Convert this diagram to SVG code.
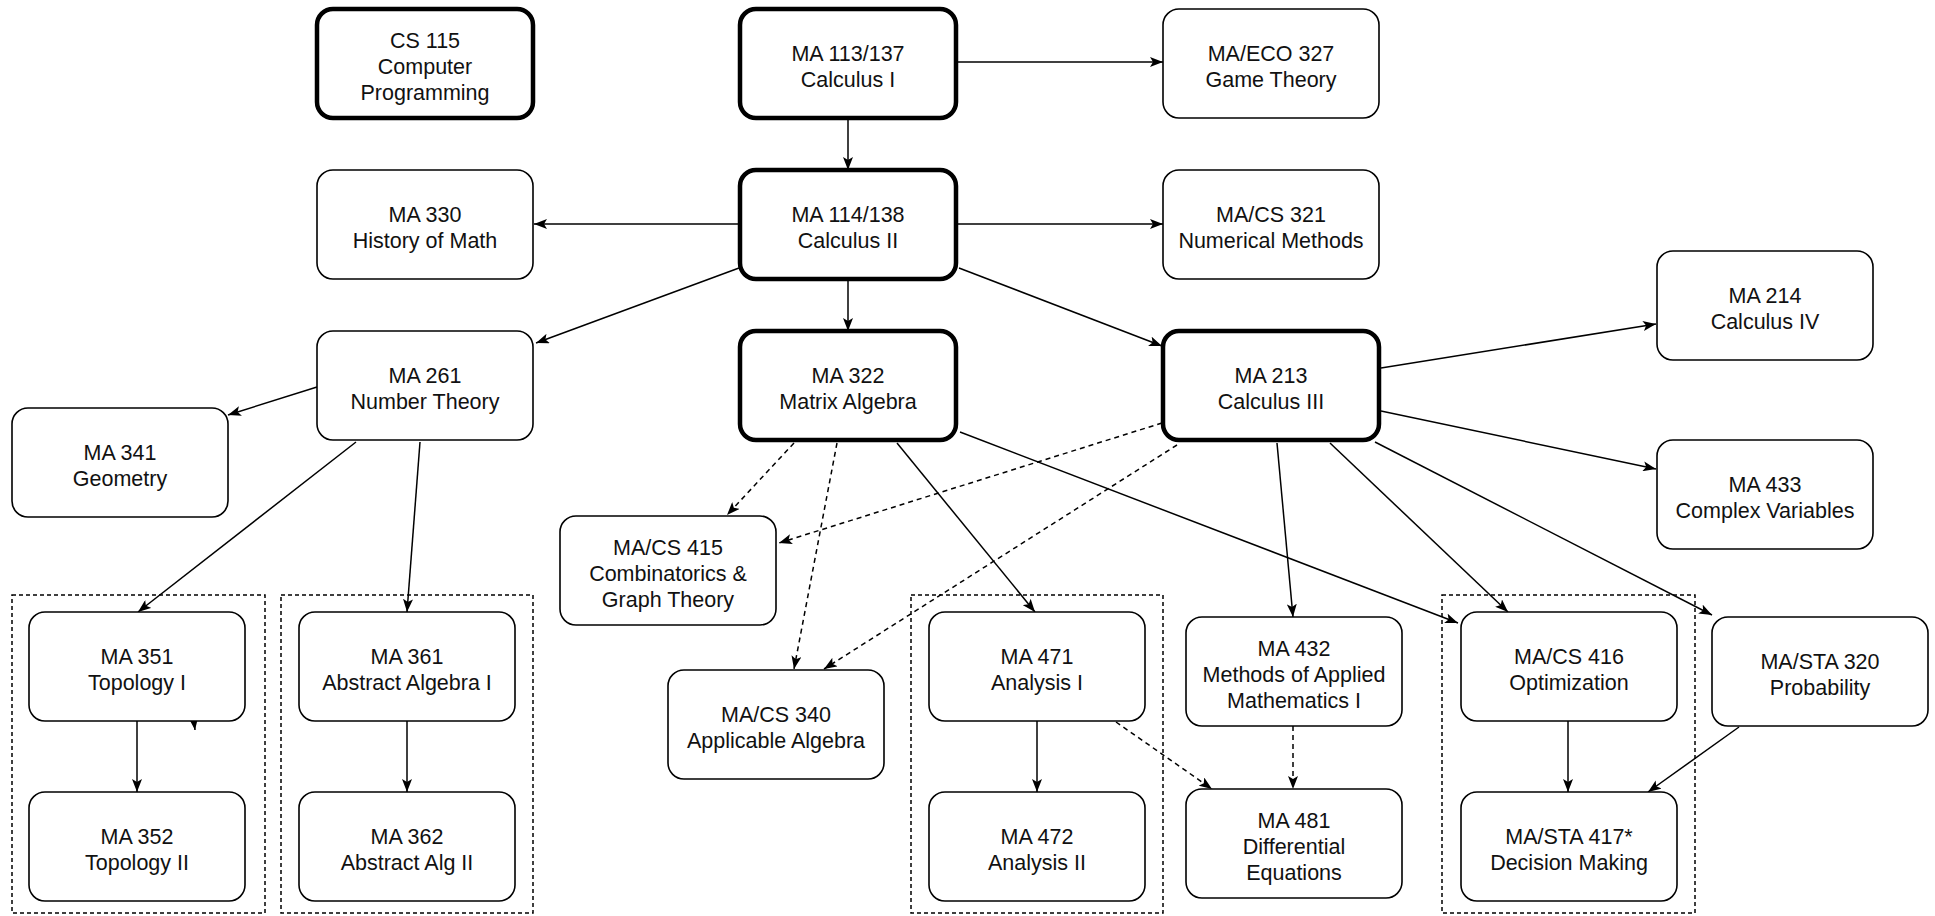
<svg xmlns="http://www.w3.org/2000/svg" width="1935" height="916" viewBox="0 0 1935 916">
<style>
.n rect{fill:#fff;stroke:#000;stroke-width:1.6}
.n.t rect{stroke-width:4.5}
.n text{font-family:"Liberation Sans",Arial,sans-serif;font-size:21.5px;fill:#111;text-anchor:middle}
.g{fill:none;stroke:#000;stroke-width:1.5;stroke-dasharray:4 3}
.e path{fill:none;stroke:#000;stroke-width:1.5;marker-end:url(#arr)}
.e path.d{stroke-dasharray:5 4}
</style>
<defs>
<marker id="arr" viewBox="0 0 13 10" refX="13" refY="5" markerWidth="13" markerHeight="10" markerUnits="userSpaceOnUse" orient="auto">
<path d="M0,0 L13,5 L0,10 L3,5 z" fill="#000"/>
</marker>
</defs>
<rect width="1935" height="916" fill="#fff"/>
<g id="groups">
<rect class="g" x="12" y="595" width="253" height="318"/>
<rect class="g" x="281" y="595" width="252" height="318"/>
<rect class="g" x="911" y="595" width="252" height="318"/>
<rect class="g" x="1442" y="595" width="253" height="318"/>
</g>
<g id="connectors" class="e">
<path d="M848,117 L848,170"/>
<path d="M956,62 L1163,62"/>
<path d="M740,224 L534,224"/>
<path d="M956,224 L1163,224"/>
<path d="M848,279 L848,331"/>
<path d="M739,268 L536,343"/>
<path d="M959,268 L1162,346"/>
<path d="M317,387 L228,415"/>
<path d="M356,442 L138,612"/>
<path d="M420,442 L407,612"/>
<path d="M137,721 L137,792"/>
<path d="M407,721 L407,792"/>
<path d="M194,722 L195,730"/>
<path class="d" d="M794,443 L727,515"/>
<path class="d" d="M837,443 L794,669"/>
<path d="M897,443 L1035,612"/>
<path d="M960,432 L1458,623"/>
<path class="d" d="M1162,423 L779,543"/>
<path class="d" d="M1177,445 L824,669"/>
<path d="M1381,368 L1656,324"/>
<path d="M1381,411 L1656,469"/>
<path d="M1277,443 L1293,617"/>
<path d="M1330,443 L1508,612"/>
<path d="M1375,442 L1712,615"/>
<path d="M1037,721 L1037,792"/>
<path class="d" d="M1116,722 L1212,789"/>
<path class="d" d="M1293,726 L1293,789"/>
<path d="M1568,721 L1568,792"/>
<path d="M1739,727 L1648,792"/>
</g>
<g id="cs115" class="n t"><rect x="317" y="9" width="216" height="109" rx="16"/><text x="425" y="48">CS 115<tspan x="425" dy="26">Computer</tspan><tspan x="425" dy="26">Programming</tspan></text></g>
<g id="ma113" class="n t"><rect x="740" y="9" width="216" height="109" rx="16"/><text x="848" y="61">MA 113/137<tspan x="848" dy="26">Calculus I</tspan></text></g>
<g id="maeco327" class="n"><rect x="1163" y="9" width="216" height="109" rx="16"/><text x="1271" y="61">MA/ECO 327<tspan x="1271" dy="26">Game Theory</tspan></text></g>
<g id="ma330" class="n"><rect x="317" y="170" width="216" height="109" rx="16"/><text x="425" y="222">MA 330<tspan x="425" dy="26">History of Math</tspan></text></g>
<g id="ma114" class="n t"><rect x="740" y="170" width="216" height="109" rx="16"/><text x="848" y="222">MA 114/138<tspan x="848" dy="26">Calculus II</tspan></text></g>
<g id="macs321" class="n"><rect x="1163" y="170" width="216" height="109" rx="16"/><text x="1271" y="222">MA/CS 321<tspan x="1271" dy="26">Numerical Methods</tspan></text></g>
<g id="ma261" class="n"><rect x="317" y="331" width="216" height="109" rx="16"/><text x="425" y="383">MA 261<tspan x="425" dy="26">Number Theory</tspan></text></g>
<g id="ma322" class="n t"><rect x="740" y="331" width="216" height="109" rx="16"/><text x="848" y="383">MA 322<tspan x="848" dy="26">Matrix Algebra</tspan></text></g>
<g id="ma213" class="n t"><rect x="1163" y="331" width="216" height="109" rx="16"/><text x="1271" y="383">MA 213<tspan x="1271" dy="26">Calculus III</tspan></text></g>
<g id="ma214" class="n"><rect x="1657" y="251" width="216" height="109" rx="16"/><text x="1765" y="303">MA 214<tspan x="1765" dy="26">Calculus IV</tspan></text></g>
<g id="ma433" class="n"><rect x="1657" y="440" width="216" height="109" rx="16"/><text x="1765" y="492">MA 433<tspan x="1765" dy="26">Complex Variables</tspan></text></g>
<g id="ma341" class="n"><rect x="12" y="408" width="216" height="109" rx="16"/><text x="120" y="460">MA 341<tspan x="120" dy="26">Geometry</tspan></text></g>
<g id="macs415" class="n"><rect x="560" y="516" width="216" height="109" rx="16"/><text x="668" y="555">MA/CS 415<tspan x="668" dy="26">Combinatorics &amp;</tspan><tspan x="668" dy="26">Graph Theory</tspan></text></g>
<g id="ma351" class="n"><rect x="29" y="612" width="216" height="109" rx="16"/><text x="137" y="664">MA 351<tspan x="137" dy="26">Topology I</tspan></text></g>
<g id="ma352" class="n"><rect x="29" y="792" width="216" height="109" rx="16"/><text x="137" y="844">MA 352<tspan x="137" dy="26">Topology II</tspan></text></g>
<g id="ma361" class="n"><rect x="299" y="612" width="216" height="109" rx="16"/><text x="407" y="664">MA 361<tspan x="407" dy="26">Abstract Algebra I</tspan></text></g>
<g id="ma362" class="n"><rect x="299" y="792" width="216" height="109" rx="16"/><text x="407" y="844">MA 362<tspan x="407" dy="26">Abstract Alg II</tspan></text></g>
<g id="macs340" class="n"><rect x="668" y="670" width="216" height="109" rx="16"/><text x="776" y="722">MA/CS 340<tspan x="776" dy="26">Applicable Algebra</tspan></text></g>
<g id="ma471" class="n"><rect x="929" y="612" width="216" height="109" rx="16"/><text x="1037" y="664">MA 471<tspan x="1037" dy="26">Analysis I</tspan></text></g>
<g id="ma472" class="n"><rect x="929" y="792" width="216" height="109" rx="16"/><text x="1037" y="844">MA 472<tspan x="1037" dy="26">Analysis II</tspan></text></g>
<g id="ma432" class="n"><rect x="1186" y="617" width="216" height="109" rx="16"/><text x="1294" y="656">MA 432<tspan x="1294" dy="26">Methods of Applied</tspan><tspan x="1294" dy="26">Mathematics I</tspan></text></g>
<g id="ma481" class="n"><rect x="1186" y="789" width="216" height="109" rx="16"/><text x="1294" y="828">MA 481<tspan x="1294" dy="26">Differential</tspan><tspan x="1294" dy="26">Equations</tspan></text></g>
<g id="macs416" class="n"><rect x="1461" y="612" width="216" height="109" rx="16"/><text x="1569" y="664">MA/CS 416<tspan x="1569" dy="26">Optimization</tspan></text></g>
<g id="masta417" class="n"><rect x="1461" y="792" width="216" height="109" rx="16"/><text x="1569" y="844">MA/STA 417*<tspan x="1569" dy="26">Decision Making</tspan></text></g>
<g id="masta320" class="n"><rect x="1712" y="617" width="216" height="109" rx="16"/><text x="1820" y="669">MA/STA 320<tspan x="1820" dy="26">Probability</tspan></text></g>
</svg>
